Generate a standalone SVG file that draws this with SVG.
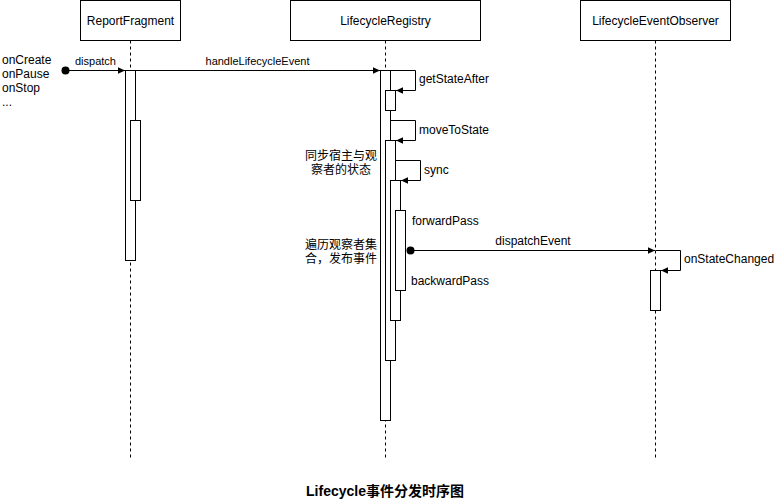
<svg xmlns="http://www.w3.org/2000/svg" width="775" height="501" viewBox="0 0 775 501">
<defs>
<style>
.box{fill:#fff;stroke:#000;stroke-width:1}
.life{stroke:#000;stroke-width:1;stroke-dasharray:3 3;fill:none}
.act{fill:#fff;stroke:#000;stroke-width:1}
.msg{fill:none;stroke:#000;stroke-width:1}
.t{font-family:"Liberation Sans",Arial,"Noto Sans CJK SC",sans-serif;font-size:12px;fill:#000}
.s{font-size:11px}
.cjk{font-family:"Liberation Sans","Noto Sans CJK SC",sans-serif;font-size:12px;fill:#000}
.title{font-family:"Liberation Sans",Arial,"Noto Sans CJK SC",sans-serif;font-size:14px;font-weight:bold;fill:#000}
</style>
<marker id="arr" viewBox="0 0 7 7" refX="7" refY="3.5" markerWidth="7" markerHeight="7" markerUnits="userSpaceOnUse" orient="auto">
<path d="M0,0.2 L7,3.5 L0,6.8 z" fill="#000"/>
</marker>
</defs>
<rect width="775" height="501" fill="#fff"/>

<g id="ReportFragment">
<line class="life" x1="130.5" y1="40.5" x2="130.5" y2="458"/>
<rect class="box" x="80.5" y="0.5" width="100" height="40"/>
<text class="t" x="130.5" y="24.5" text-anchor="middle">ReportFragment</text>
<rect class="act" x="125.5" y="70.5" width="10" height="190"/>
<rect class="act" x="130.5" y="120.5" width="10" height="80"/>
</g>

<g id="LifecycleRegistry">
<line class="life" x1="385.5" y1="40.5" x2="385.5" y2="458"/>
<rect class="box" x="290.5" y="0.5" width="190" height="40"/>
<text class="t" x="385.5" y="24.5" text-anchor="middle">LifecycleRegistry</text>
<rect class="act" x="380.5" y="70.5" width="10" height="350"/>
<rect class="act" x="385.5" y="90.5" width="10" height="20"/>
<rect class="act" x="385.5" y="140.5" width="10" height="220"/>
<rect class="act" x="390.5" y="180.5" width="10" height="140"/>
<rect class="act" x="395.5" y="210.5" width="10" height="80"/>
</g>

<g id="LifecycleEventObserver">
<line class="life" x1="655.5" y1="40.5" x2="655.5" y2="458"/>
<rect class="box" x="580.5" y="0.5" width="150" height="40"/>
<text class="t" x="655.5" y="24.5" text-anchor="middle">LifecycleEventObserver</text>
<rect class="act" x="650.5" y="270.5" width="10" height="40"/>
</g>

<g id="connectors">
<circle cx="65.5" cy="70.5" r="4" fill="#000"/>
<line class="msg" x1="65.5" y1="70.5" x2="125" y2="70.5" marker-end="url(#arr)"/>
<line class="msg" x1="135.5" y1="70.5" x2="380" y2="70.5" marker-end="url(#arr)"/>
<path class="msg" d="M390.5 70.5 H415.5 V90.5 H396" marker-end="url(#arr)"/>
<path class="msg" d="M390.5 120.5 H415.5 V140.5 H396" marker-end="url(#arr)"/>
<path class="msg" d="M395.5 160.5 H420.5 V180.5 H401" marker-end="url(#arr)"/>
<circle cx="410.5" cy="250.5" r="4" fill="#000"/>
<line class="msg" x1="410.5" y1="250.5" x2="655" y2="250.5" marker-end="url(#arr)"/>
<path class="msg" d="M655.5 250.5 H680.5 V270.5 H661" marker-end="url(#arr)"/>
</g>

<g id="labels">
<text class="t" x="2" y="64">onCreate</text>
<text class="t" x="2" y="78">onPause</text>
<text class="t" x="2" y="92">onStop</text>
<text class="t" x="2" y="106">...</text>
<text class="t s" x="95.5" y="65" text-anchor="middle">dispatch</text>
<text class="t s" x="257.5" y="65" text-anchor="middle">handleLifecycleEvent</text>
<text class="t" x="419" y="83">getStateAfter</text>
<text class="t" x="419" y="134">moveToState</text>
<text class="t" x="424" y="174">sync</text>
<text class="t" x="412" y="225">forwardPass</text>
<text class="t" x="411" y="285">backwardPass</text>
<text class="t" x="533" y="245" text-anchor="middle">dispatchEvent</text>
<text class="t" x="684" y="263">onStateChanged</text>
<text class="cjk" x="341" y="160" text-anchor="middle">同步宿主与观</text>
<text class="cjk" x="341" y="174" text-anchor="middle">察者的状态</text>
<text class="cjk" x="341" y="249" text-anchor="middle">遍历观察者集</text>
<text class="cjk" x="341" y="263" text-anchor="middle">合，发布事件</text>
<text class="title" x="385" y="496" text-anchor="middle">Lifecycle事件分发时序图</text>
</g>
</svg>
